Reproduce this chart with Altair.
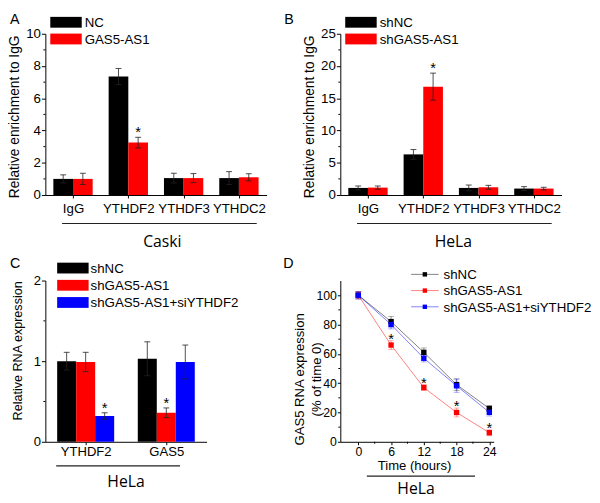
import altair as alt
import pandas as pd

FONT = "Liberation Sans"
FONT2 = "Open Sans"

# ---------------- Panel A (Caski RIP) ----------------
a_categories = ["IgG", "YTHDF2", "YTHDF3", "YTHDC2"]
a_series = ["NC", "GAS5-AS1"]
a_nc = [1.0, 7.35, 1.05, 1.05]
a_nc_err = [0.25, 0.5, 0.3, 0.4]
a_gas = [1.0, 3.25, 1.05, 1.1]
a_gas_err = [0.35, 0.33, 0.28, 0.22]
a_sig = [("YTHDF2", "GAS5-AS1")]
a_ticks = [0, 2, 4, 6, 8, 10]
a_minor = [1, 3, 5, 7, 9]

# ---------------- Panel B (HeLa RIP) ----------------
b_categories = ["IgG", "YTHDF2", "YTHDF3", "YTHDC2"]
b_series = ["shNC", "shGAS5-AS1"]
b_nc = [1.1, 6.3, 1.1, 1.0]
b_nc_err = [0.3, 0.75, 0.45, 0.3]
b_sh = [1.15, 16.8, 1.2, 1.0]
b_sh_err = [0.25, 2.1, 0.3, 0.2]
b_sig = [("YTHDF2", "shGAS5-AS1")]
b_ticks = [0, 5, 10, 15, 20, 25]
b_minor = [2.5, 7.5, 12.5, 17.5, 22.5]

# ---------------- Panel C (HeLa RNA expression) ----------------
c_categories = ["YTHDF2", "GAS5"]
c_series = ["shNC", "shGAS5-AS1", "shGAS5-AS1+siYTHDF2"]
c_shnc = [1.0, 1.03]
c_shnc_err = [0.11, 0.21]
c_shgas = [0.99, 0.36]
c_shgas_err = [0.12, 0.06]
c_si = [0.32, 0.99]
c_si_err = [0.04, 0.21]
c_sig = [("YTHDF2", "shGAS5-AS1+siYTHDF2"), ("GAS5", "shGAS5-AS1")]
c_ticks = [0, 1, 2]
c_minor = [0.5, 1.5]

# ---------------- Panel D (GAS5 decay) ----------------
d_times = [0, 6, 12, 18, 24]
d_series = ["shNC", "shGAS5-AS1", "shGAS5-AS1+siYTHDF2"]
d_shnc = [100, 82, 61, 39, 22.7]
d_shnc_err = [2.5, 3.5, 3, 4, 2]
d_shgas = [100, 66, 37, 20, 6.2]
d_shgas_err = [2.5, 3, 2, 3, 2]
d_si = [100, 80, 57, 38.2, 20.1]
d_si_err = [2.5, 3, 2.5, 4.5, 2.5]
d_sig = [(6, "shGAS5-AS1"), (12, "shGAS5-AS1"), (18, "shGAS5-AS1"), (24, "shGAS5-AS1")]
d_yticks = [0, 20, 40, 60, 80, 100]
d_yminor = [10, 30, 50, 70, 90]
d_xticks = [0, 6, 12, 18, 24]
d_xminor = [3, 9, 15, 21]

colors2 = ["#000000", "#ff0000"]
colors3 = ["#000000", "#ff0000", "#0000ff"]


def one():
    return alt.Chart(pd.DataFrame({"k": [0]}))


def text_at(txt, x, y, size, font=FONT, align="left"):
    return one().mark_text(text=txt, font=font, fontSize=size, align=align,
                           baseline="middle", color="black").encode(
        x=alt.value(x), y=alt.value(y))


def rule_h(x1, x2, y, color="#222", width=1.2, opacity=1.0):
    return one().mark_rule(color=color, strokeWidth=width, opacity=opacity).encode(
        x=alt.value(x1), x2=alt.value(x2), y=alt.value(y))


def bar_panel(cats, series, colors, vals, errs, sig, ymax, ticks, minor, w, h,
              ytitle, tx, ty, tsize, lsize, group_frac, xlab_pad, letter, lxy,
              leg_x, leg_y0, leg_gap, leg_text_x, group, gx, gy, line_x, line_y):
    rows = []
    for si, (s, vs, es) in enumerate(zip(series, vals, errs)):
        for ci, (c, v, e) in enumerate(zip(cats, vs, es)):
            rows.append({"cat": c, "ci": ci, "series": s, "si": si, "v": v,
                         "lo": v - e, "hi": v + e,
                         "sig": 1 if (c, s) in sig else 0})
    df = pd.DataFrame(rows)
    n = len(series)
    bw = group_frac / n
    calc = dict(
        x0=f"datum.ci - {group_frac / 2} + datum.si * {bw}",
        x1=f"datum.ci - {group_frac / 2} + (datum.si + 1) * {bw}",
        xm=f"datum.ci - {group_frac / 2} + (datum.si + 0.5) * {bw}",
    )
    label_expr = "[" + ",".join(f"'{c}'" for c in cats) + "][datum.value]"
    xscale = alt.Scale(domain=[-0.5, len(cats) - 0.5], nice=False, zero=False)
    xaxis = alt.Axis(values=list(range(len(cats))), labelExpr=label_expr, title=None,
                     labelAngle=0, labelFontSize=lsize, tickSize=3,
                     labelPadding=xlab_pad, grid=False, labelOverlap=False,
                     labelFlush=False)
    yscale = alt.Scale(domain=[0, ymax], nice=False, zero=True)
    yaxis = alt.Axis(values=ticks, format=".0f", title=ytitle, titleX=tx, titleY=ty,
                     titleBaseline="bottom", titleFontSize=tsize, labelOverlap=False,
                     labelFlush=False,
                     labelFontSize=lsize, tickSize=4, labelPadding=1, grid=False)
    col = alt.Color("series:N", scale=alt.Scale(domain=series, range=colors), legend=None)
    base = alt.Chart(df).transform_calculate(**calc)
    bars = base.mark_bar().encode(
        x=alt.X("x0:Q", scale=xscale, axis=xaxis), x2="x1:Q",
        y=alt.Y("v:Q", scale=yscale, axis=yaxis), y2=alt.datum(0), color=col)
    xm = alt.X("xm:Q", scale=xscale, axis=xaxis)
    err = base.mark_rule(color="#222", strokeWidth=1, opacity=0.8).encode(
        x=xm, y=alt.Y("lo:Q", scale=yscale, axis=yaxis), y2="hi:Q")
    cap_hi = base.mark_tick(orient="horizontal", color="#222", thickness=1, size=6,
                            opacity=0.8).encode(
        x=xm, y=alt.Y("hi:Q", scale=yscale, axis=yaxis))
    cap_lo = base.mark_tick(orient="horizontal", color="#222", thickness=1, size=6,
                            opacity=0.8).encode(
        x=xm, y=alt.Y("lo:Q", scale=yscale, axis=yaxis))
    stars = base.transform_filter("datum.sig == 1").mark_text(
        text="*", fontSize=15, font=FONT, baseline="alphabetic", color="black").encode(
        x=xm, y=alt.Y("hi:Q", scale=yscale, axis=yaxis))
    minor_ticks = alt.Chart(pd.DataFrame({"m": minor})).mark_rule(color="black").encode(
        y=alt.Y("m:Q", scale=yscale, axis=yaxis), x=alt.value(-2), x2=alt.value(0))
    layers = [bars, err, cap_hi, cap_lo, stars, minor_ticks]
    for i, (s, c) in enumerate(zip(series, colors)):
        yc = leg_y0 + i * leg_gap
        layers.append(one().mark_rect(color=c).encode(
            x=alt.value(leg_x), x2=alt.value(leg_x + 32),
            y=alt.value(yc - 5.5), y2=alt.value(yc + 5.5)))
        layers.append(text_at(s, leg_text_x, yc + 1, 13.5))
    layers.append(text_at(letter, lxy[0], lxy[1], 14.5))
    layers.append(rule_h(line_x[0], line_x[1], line_y))
    layers.append(text_at(group, gx, gy, 16, font=FONT2, align="center"))
    return alt.layer(*layers).properties(width=w, height=h)


H = 164
pA = bar_panel(a_categories, a_series, colors2, [a_nc, a_gas], [a_nc_err, a_gas_err],
               a_sig, 10, a_ticks, a_minor, 225, H,
               "Relative enrichment to IgG", -24, 84, 14, 13.5, 0.711, 4,
               "A", (-36, -13.7), 5, -11.7, 17, 40,
               "Caski", 119, H + 48, (17, 215), H + 29)

pB = bar_panel(b_categories, b_series, colors2, [b_nc, b_sh], [b_nc_err, b_sh_err],
               b_sig, 25, b_ticks, b_minor, 225, H,
               "Relative enrichment to IgG", -24, 84, 14, 13.5, 0.711, 4,
               "B", (-57, -13.7), 5, -11.7, 17, 40,
               "HeLa", 115, H + 48, (17, 215), H + 29)

pC = bar_panel(c_categories, c_series, colors3, [c_shnc, c_shgas, c_si],
               [c_shnc_err, c_shgas_err, c_si_err],
               c_sig, 2, c_ticks, c_minor, 164, H,
               "Relative RNA expression", -21, 71, 12.8, 13.3, 0.707, 0,
               "C", (-36, -16.3), 12, -12.7, 17.5, 46,
               "HeLa", 82, H + 40.5, (11, 137), H + 24.5)

# ---- Panel D ----
rows = []
for s, vs, es in zip(d_series, [d_shnc, d_shgas, d_si], [d_shnc_err, d_shgas_err, d_si_err]):
    for t, v, e in zip(d_times, vs, es):
        rows.append({"t": t, "series": s, "v": v, "lo": v - e, "hi": v + e,
                     "sig": 1 if (t, s) in d_sig else 0})
ddf = pd.DataFrame(rows)
DW = 156
dxs = alt.Scale(domain=[-3.3, 24.8], nice=False, zero=False)
dys = alt.Scale(domain=[0, 110], nice=False, zero=True)
dxa = alt.Axis(values=d_xticks, title="Time (hours)", titleX=75, titleY=24,
               titleBaseline="middle", titleFontSize=13.3, labelFontSize=12.5,
               tickSize=3, labelPadding=1, grid=False)
dya = alt.Axis(values=d_yticks, title=["GAS5 RNA expression", "(% of time 0)"],
               titleX=-41.5, titleY=100, titleBaseline="middle", titleLineHeight=17,
               titleFontSize=13.3, labelFontSize=12.5, tickSize=3, labelPadding=1,
               grid=False)
dcol = alt.Color("series:N", scale=alt.Scale(domain=d_series, range=colors3), legend=None)
dx = alt.X("t:Q", scale=dxs, axis=dxa)
dbase = alt.Chart(ddf)
d_lines = dbase.mark_line(strokeWidth=1, opacity=0.5).encode(
    x=dx, y=alt.Y("v:Q", scale=dys, axis=dya), color=dcol)
d_err = dbase.mark_rule(strokeWidth=1.5, opacity=0.3).encode(
    x=dx, y=alt.Y("lo:Q", scale=dys, axis=dya), y2="hi:Q", color=dcol)
d_caphi = dbase.mark_tick(orient="horizontal", size=6, thickness=1, opacity=0.3).encode(
    x=dx, y=alt.Y("hi:Q", scale=dys, axis=dya), color=dcol)
d_caplo = dbase.mark_tick(orient="horizontal", size=6, thickness=1, opacity=0.3).encode(
    x=dx, y=alt.Y("lo:Q", scale=dys, axis=dya), color=dcol)
d_pts = dbase.mark_square(size=30, opacity=1, filled=True).encode(
    x=dx, y=alt.Y("v:Q", scale=dys, axis=dya), color=dcol)
d_stars = dbase.transform_filter("datum.sig == 1").mark_text(
    text="*", fontSize=15, font=FONT, baseline="alphabetic", dy=3, color="black").encode(
    x=dx, y=alt.Y("hi:Q", scale=dys, axis=dya))
d_yminor_l = alt.Chart(pd.DataFrame({"m": d_yminor})).mark_rule(color="black").encode(
    y=alt.Y("m:Q", scale=dys, axis=dya), x=alt.value(-2), x2=alt.value(0))
d_xminor_l = alt.Chart(pd.DataFrame({"m": d_xminor})).mark_rule(color="black").encode(
    x=alt.X("m:Q", scale=dxs, axis=dxa), y=alt.value(H), y2=alt.value(H + 2))
d_layers = [d_lines, d_err, d_caphi, d_caplo, d_pts, d_stars, d_yminor_l, d_xminor_l]
for i, (s, c) in enumerate(zip(d_series, colors3)):
    yc = -6.3 + i * 16.5
    d_layers.append(rule_h(72, 100, yc, color=c, width=1, opacity=0.5))
    d_layers.append(one().mark_square(size=20, color=c, opacity=1, filled=True).encode(
        x=alt.value(86), y=alt.value(yc)))
    d_layers.append(text_at(s, 105, yc + 1, 13.5))
d_layers.append(text_at("D", -58, -16.5, 14.5))
d_layers.append(rule_h(27, 137, H + 35))
d_layers.append(text_at("HeLa", 77, H + 48, 16, font=FONT2, align="center"))
pD = alt.layer(*d_layers).properties(width=DW, height=H)

chart = alt.concat(pA, pB, pC, pD, columns=2, spacing={"row": 87, "column": 75},
                   bounds="flush").resolve_scale(
    color="independent", x="independent", y="independent").properties(
    padding=0).configure_view(stroke=None).configure_axis(
    domainColor="#000", tickColor="#000", labelColor="#000", titleColor="#000",
    labelFont=FONT, titleFont=FONT, titleFontWeight="normal", domainWidth=1, tickWidth=1)

chart.save("out.html", embed_options={"renderer": "svg", "actions": False})
